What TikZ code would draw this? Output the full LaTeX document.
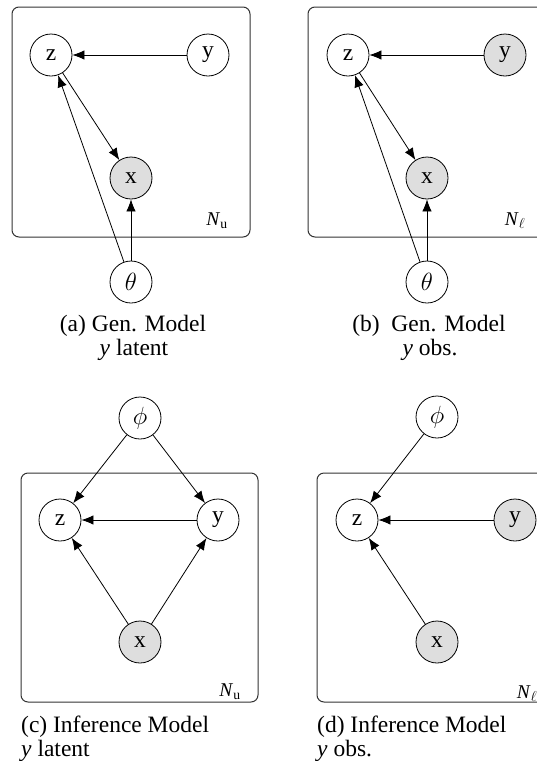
\documentclass[tikz,border=0pt]{standalone}
\usepackage{fontspec}
\setmainfont{Liberation Serif}
\usetikzlibrary{arrows.meta}
\definecolor{obsgray}{HTML}{DEDEDE}
\newcommand{\nodefont}{\fontsize{23.5}{26}\selectfont}
\newcommand{\capfont}{\fontsize{23.5}{26}\selectfont}
\newcommand{\platefont}{\fontsize{19.5}{22}\selectfont}
\tikzset{
  var/.style={circle, draw, line width=0.8pt, minimum size=42pt, inner sep=0pt, font=\nodefont},
  obs/.style={var, fill=obsgray},
  plate/.style={draw=black!80, line width=1pt, rounded corners=7pt},
  edge/.style={-{Latex[length=12pt,width=9.5pt]}, line width=0.8pt},
  captext/.style={font=\capfont, inner sep=0pt},
  platelabel/.style={font=\platefont, inner sep=0pt}
}
\begin{document}
\begin{tikzpicture}[x=1pt,y=-1pt]
\clip (0,0) rectangle (537,761);
% ---------- (a) ----------
\draw[plate] (12,7) rectangle (250,237);
\node[var] (za) at (51,55) {z};
\node[var] (ya) at (208,55) {y};
\node[obs] (xa) at (131,178) {x};
\node[var] (ta) at (131,282) {$\theta$};
\node[platelabel] (na) at (217,221) {\textit{N}\textsubscript{u}};
\draw[edge] (ya) -- (za);
\draw[edge] (za) -- (xa);
\draw[edge] (ta) -- (za);
\draw[edge] (ta) -- (xa);
\node[captext, anchor=base] (ca1) at (133,331) {(a) Gen. Model};
\node[captext, anchor=base] (ca2) at (134,355) {\textit{y} latent};
% ---------- (b) ----------
\draw[plate] (308,7) rectangle (546,237);
\node[var] (zb) at (348,55) {z};
\node[obs] (yb) at (505,55) {y};
\node[obs] (xb) at (427,178) {x};
\node[var] (tb) at (427,282) {$\theta$};
\node[platelabel] (nb) at (515,221) {\textit{N}$_{\ell}$};
\draw[edge] (yb) -- (zb);
\draw[edge] (zb) -- (xb);
\draw[edge] (tb) -- (zb);
\draw[edge] (tb) -- (xb);
\node[captext, anchor=base] (cb1) at (429,331) {(b)\ \ Gen. Model};
\node[captext, anchor=base] (cb2) at (430,355) {\textit{y} obs.};
% ---------- (c) ----------
\draw[plate] (21,473) rectangle (258,702);
\node[var] (pc) at (140,418) {$\phi$};
\node[var] (zc) at (60,520) {z};
\node[var] (yc) at (218,520) {y};
\node[obs] (xc) at (140,642) {x};
\node[platelabel] (nc) at (230,692) {\textit{N}\textsubscript{u}};
\draw[edge] (pc) -- (zc);
\draw[edge] (pc) -- (yc);
\draw[edge] (yc) -- (zc);
\draw[edge] (xc) -- (zc);
\draw[edge] (xc) -- (yc);
\node[captext, anchor=base west] (cc1) at (21,732) {(c) Inference Model};
\node[captext, anchor=base west] (cc2) at (21,756) {\textit{y} latent};
% ---------- (d) ----------
\draw[plate] (317,473) rectangle (555,702);
\node[var] (pd) at (437,417) {$\phi$};
\node[var] (zd) at (357,520) {z};
\node[obs] (yd) at (515,520) {y};
\node[obs] (xd) at (437,642) {x};
\node[platelabel] (nd) at (527,694) {\textit{N}$_{\ell}$};
\draw[edge] (pd) -- (zd);
\draw[edge] (yd) -- (zd);
\draw[edge] (xd) -- (zd);
\node[captext, anchor=base west] (cd1) at (317,732) {(d) Inference Model};
\node[captext, anchor=base west] (cd2) at (317,756) {\textit{y} obs.};
\end{tikzpicture}
\end{document}
